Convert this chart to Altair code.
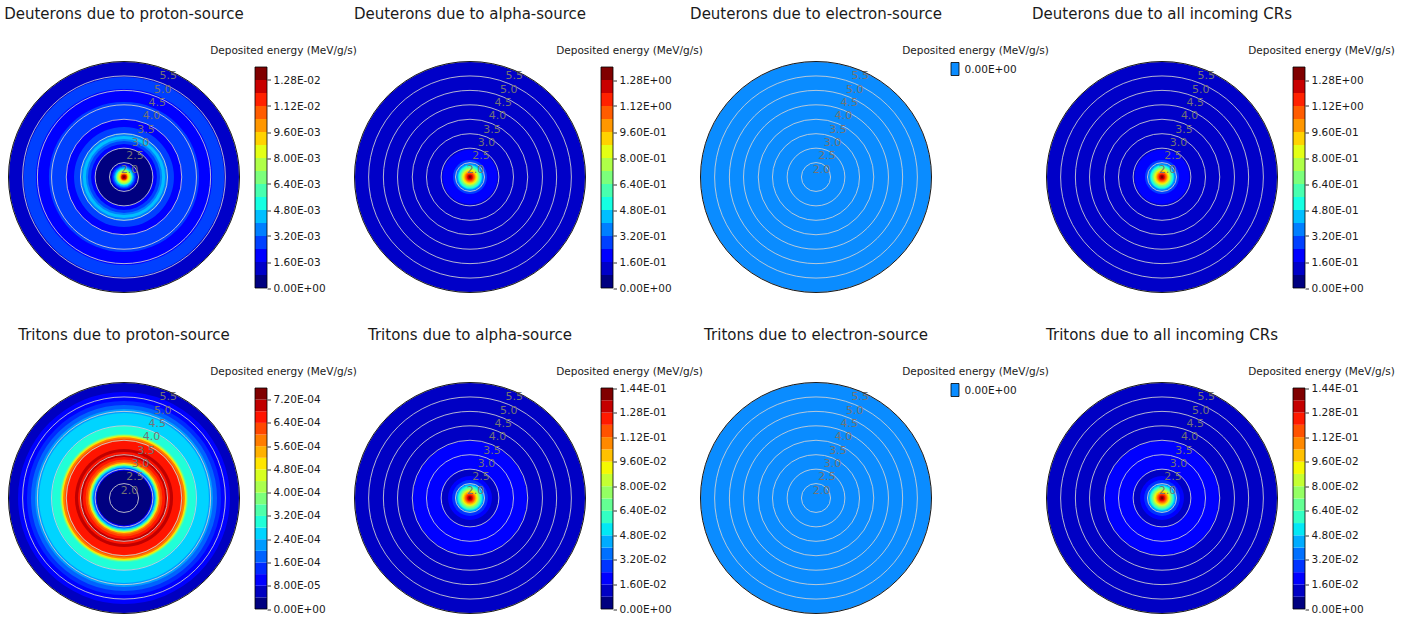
import altair as alt
import numpy as np
import pandas as pd

# ---------------------------------------------------------------- radial axis
R_MIN, R_MAX = 1.5, 5.5
GRID_R = [2.0, 2.5, 3.0, 3.5, 4.0, 4.5, 5.0, 5.5]
LABEL_TURN = 0.0625          # radial tick labels sit at 22.5 deg (fraction of a turn)

# ---------------------------------------------------------------- profiles
# each ring: outer radius (same units as the radial axis) and the deposited
# energy (MeV/g/s) inside that ring

# Deuterons due to proton-source
dp_r = [1.55, 1.59, 1.62, 1.66, 1.69, 1.73, 1.76, 1.79, 1.83, 1.86, 1.90, 1.93,
        1.99, 2.50, 2.64, 2.75, 2.82, 2.92, 3.02, 3.23, 3.51, 4.10, 4.55, 4.96, 5.50]
dp_val = [1.32e-2, 1.20e-2, 1.10e-2, 9.5e-3, 8.5e-3, 7.5e-3, 6.5e-3, 5.5e-3, 4.5e-3,
          3.6e-3, 2.8e-3, 2.0e-3, 1.2e-3, 4.0e-4, 1.8e-3, 2.8e-3, 3.6e-3, 4.2e-3,
          3.4e-3, 2.6e-3, 2.0e-3, 2.8e-3, 2.0e-3, 2.6e-3, 1.4e-3]
dp_ticks = [0.0, 1.6e-3, 3.2e-3, 4.8e-3, 6.4e-3, 8.0e-3, 9.6e-3, 1.12e-2, 1.28e-2]
dp_top = 1.36e-2

# Deuterons due to alpha-source
da_r = [1.55, 1.59, 1.62, 1.66, 1.69, 1.73, 1.76, 1.79, 1.83, 1.86, 1.90, 1.93,
        1.99, 2.09, 2.44, 5.50]
da_val = [1.33, 1.25, 1.15, 1.07, 0.99, 0.91, 0.83, 0.75, 0.67, 0.59, 0.51, 0.43,
          0.35, 0.27, 0.19, 0.11]
da_ticks = [0.0, 0.16, 0.32, 0.48, 0.64, 0.80, 0.96, 1.12, 1.28]
da_top = 1.36

# Deuterons due to all incoming CRs
dall_r = [1.55, 1.59, 1.62, 1.66, 1.69, 1.73, 1.76, 1.79, 1.83, 1.86, 1.90, 1.93,
          1.99, 2.09, 2.44, 5.50]
dall_val = [1.33, 1.25, 1.15, 1.07, 0.99, 0.91, 0.83, 0.75, 0.67, 0.59, 0.51, 0.43,
            0.35, 0.27, 0.19, 0.11]
dall_ticks = [0.0, 0.16, 0.32, 0.48, 0.64, 0.80, 0.96, 1.12, 1.28]
dall_top = 1.36

# Tritons due to proton-source
tp_r = [2.45, 2.50, 2.56, 2.61, 2.64, 2.68, 2.71, 2.76, 2.83, 2.92, 3.02, 3.09, 3.20,
        3.47, 3.54, 3.60, 3.65, 3.68, 3.72, 3.99, 4.44, 4.58, 4.72, 4.86, 5.17, 5.50]
tp_val = [2e-5, 1.0e-4, 1.8e-4, 2.6e-4, 3.4e-4, 4.2e-4, 5.0e-4, 5.8e-4, 6.2e-4, 6.6e-4,
          7.0e-4, 6.6e-4, 7.0e-4, 6.6e-4, 6.2e-4, 5.8e-4, 5.0e-4, 4.2e-4, 3.4e-4,
          3.0e-4, 2.6e-4, 2.2e-4, 1.8e-4, 1.4e-4, 1.0e-4, 7e-5]
tp_ticks = [0.0, 8e-5, 1.6e-4, 2.4e-4, 3.2e-4, 4.0e-4, 4.8e-4, 5.6e-4, 6.4e-4, 7.2e-4]
tp_top = 7.6e-4

# Tritons due to alpha-source
ta_r = [1.55, 1.59, 1.62, 1.66, 1.69, 1.73, 1.76, 1.79, 1.83, 1.86, 1.90, 1.93,
        1.97, 2.02, 2.12, 2.26, 2.50, 3.47, 5.50]
ta_val = [0.140, 0.130, 0.122, 0.114, 0.105, 0.097, 0.090, 0.082, 0.074, 0.066,
          0.058, 0.050, 0.042, 0.034, 0.026, 0.018, 0.012, 0.020, 0.012]
ta_ticks = [0.0, 1.6e-2, 3.2e-2, 4.8e-2, 6.4e-2, 8.0e-2, 9.6e-2, 1.12e-1, 1.28e-1, 1.44e-1]
ta_top = 1.44e-1

# Tritons due to all incoming CRs
tall_r = [1.55, 1.59, 1.62, 1.66, 1.69, 1.73, 1.76, 1.79, 1.83, 1.86, 1.90, 1.93,
          1.97, 2.02, 2.12, 2.26, 2.50, 3.47, 5.50]
tall_val = [0.140, 0.130, 0.122, 0.114, 0.105, 0.097, 0.090, 0.082, 0.074, 0.066,
            0.058, 0.050, 0.042, 0.034, 0.026, 0.018, 0.012, 0.020, 0.012]
tall_ticks = [0.0, 1.6e-2, 3.2e-2, 4.8e-2, 6.4e-2, 8.0e-2, 9.6e-2, 1.12e-1, 1.28e-1, 1.44e-1]
tall_top = 1.44e-1

# electron source: zero everywhere, one single level
el_r = [5.50]
el_val = [0.0]
el_levels = [0.0]

TITLES = [
    "Deuterons due to proton-source", "Deuterons due to alpha-source",
    "Deuterons due to electron-source", "Deuterons due to all incoming CRs",
    "Tritons due to proton-source", "Tritons due to alpha-source",
    "Tritons due to electron-source", "Tritons due to all incoming CRs",
]
CBAR_TITLE = "Deposited energy (MeV/g/s)"

# ---------------------------------------------------------------- jet colormap
JET = {
    "red": [(0.0, 0.0), (0.35, 0.0), (0.66, 1.0), (0.89, 1.0), (1.0, 0.5)],
    "green": [(0.0, 0.0), (0.125, 0.0), (0.375, 1.0), (0.64, 1.0), (0.91, 0.0), (1.0, 0.0)],
    "blue": [(0.0, 0.5), (0.11, 1.0), (0.34, 1.0), (0.65, 0.0), (1.0, 0.0)],
}
KNOTS = sorted({x for ch in JET.values() for x, _ in ch})


def jet_hex(t):
    rgb = []
    for ch in ("red", "green", "blue"):
        xs, ys = zip(*JET[ch])
        rgb.append(int(round(255 * float(np.interp(t, xs, ys)))))
    return "#%02x%02x%02x" % tuple(rgb)


JET_SCALE = alt.Scale(domain=KNOTS, range=[jet_hex(k) for k in KNOTS], interpolate="rgb")
EL_COLOR = "#0a8cff"
FONT = "DejaVu Sans"
TXT = "#1a1a1a"

# panel geometry (pixels): polar view, then the colour bar to its right
VIEW_W, DISK_R = 246, 115.5
VIEW_H = 2 * DISK_R
BAR_X = (VIEW_W / 2 + 131, VIEW_W / 2 + 143)
SWATCH_X = (VIEW_W / 2 + 135, VIEW_W / 2 + 143)
AXIS_OFFSET = BAR_X[1] - VIEW_W
PANEL_GAP, ROW_GAP = 100, 32

RAD = alt.Scale(type="linear", domain=[R_MIN, R_MAX], range=[0, DISK_R], zero=False, nice=False)
TURN = alt.Scale(type="linear", domain=[0, 1], range=[0, 2 * np.pi], zero=False, nice=False)


def sci(v):
    return "%.2E" % v


def label_expr(ticks):
    labels = [sci(v) for v in ticks]
    expr = "'%s'" % labels[-1]
    for i in range(len(ticks) - 2, -1, -1):
        mid = (ticks[i] + ticks[i + 1]) / 2
        expr = "datum.value < %r ? '%s' : (%s)" % (mid, labels[i], expr)
    return expr


def band_pos(vals, ticks, top):
    half = ticks[1] / 2
    n = int(round(top / half))
    idx = np.minimum((np.asarray(vals, dtype=float) / half + 1e-9).astype(int), n - 1)
    return idx / (n - 1), half, n


def full_turn(df):
    # every ring / circle covers the whole turn
    return df.assign(a0=0.0, a1=1.0)


def circle_enc():
    return dict(
        theta=alt.Theta("a0:Q", scale=TURN, stack=False),
        theta2="a1:Q",
        radius=alt.Radius("r:Q", scale=RAD),
    )


def polar_layers():
    grid = alt.Chart(full_turn(pd.DataFrame({"r": GRID_R}))).mark_arc(
        fillOpacity=0, stroke="#d2d2d2", strokeOpacity=0.85, strokeWidth=1
    ).encode(**circle_enc())
    lab = pd.DataFrame({"r": GRID_R, "txt": ["%.1f" % v for v in GRID_R], "ang": LABEL_TURN})
    labels = alt.Chart(lab).mark_text(dy=6, fontSize=11, font=FONT, color="#747474").encode(
        theta=alt.Theta("ang:Q", scale=TURN, stack=False),
        radius=alt.Radius("r:Q", scale=RAD),
        text="txt:N",
    )
    spine = alt.Chart(full_turn(pd.DataFrame({"r": [R_MAX]}))).mark_arc(
        fillOpacity=0, stroke=TXT, strokeWidth=1
    ).encode(**circle_enc())
    return grid, labels, spine


def bar_axis(values, expr, ticks_on=True, pad=2.5):
    kw = dict(orient="right", offset=AXIS_OFFSET, values=values, labelExpr=expr,
              tickCount=40, grid=False, domain=False, labelFontSize=10.5, labelFont=FONT,
              labelColor=TXT, labelPadding=pad, labelOverlap=False,
              title=CBAR_TITLE, titleAngle=0, titleAlign="center", titleBaseline="middle",
              titleX=16, titleY=-11.5, titleFontSize=10.5, titleFont=FONT,
              titleFontWeight="normal", titleColor=TXT)
    if ticks_on:
        kw.update(tickColor="#000000", tickSize=3.5, tickWidth=0.8)
    else:
        kw.update(ticks=False, tickSize=0)
    return alt.Axis(**kw)


def panel_props(chart, title):
    return chart.properties(
        width=VIEW_W, height=VIEW_H,
        title=alt.TitleParams(title, fontSize=15, font=FONT, fontWeight="normal",
                              color=TXT, anchor="middle", frame="group",
                              baseline="alphabetic", offset=11),
    )


def contour_panel(title, r_out, vals, ticks, top):
    t, half, n = band_pos(vals, ticks, top)
    rings = full_turn(pd.DataFrame({"r": r_out, "value": vals, "t": t})
                      .sort_values("r", ascending=False))
    fill = alt.Chart(rings).mark_arc().encode(
        color=alt.Color("t:Q", scale=JET_SCALE, legend=None), **circle_enc()
    )

    lo = [i * half for i in range(n)]
    bands = pd.DataFrame({"lo": lo, "hi": [v + half for v in lo],
                          "t": [i / (n - 1) for i in range(n)], "x0": 0.0, "x1": 1.0})
    xscale = alt.Scale(domain=[0, 1], range=list(BAR_X))
    yscale = alt.Scale(domain=[0, top], range=[VIEW_H - 4.5, 5.5], nice=False, zero=False)
    bar = alt.Chart(bands).mark_rect().encode(
        x=alt.X("x0:Q", scale=xscale, axis=None), x2="x1:Q",
        y=alt.Y("lo:Q", scale=yscale, axis=bar_axis(ticks, label_expr(ticks))),
        y2="hi:Q",
        color=alt.Color("t:Q", scale=JET_SCALE, legend=None),
    )
    frame = alt.Chart(pd.DataFrame({"lo": [0.0], "hi": [top], "x0": [0.0], "x1": [1.0]})).mark_rect(
        fillOpacity=0, stroke="#000000", strokeWidth=0.8
    ).encode(x=alt.X("x0:Q", scale=xscale, axis=None), x2="x1:Q",
             y=alt.Y("lo:Q", scale=yscale), y2="hi:Q")
    grid, labels, spine = polar_layers()
    return panel_props(alt.layer(fill, grid, labels, spine, bar, frame), title)


def electron_panel(title):
    rings = full_turn(pd.DataFrame({"r": el_r, "value": el_val}))
    fill = alt.Chart(rings).mark_arc(color=EL_COLOR).encode(**circle_enc())
    sw = pd.DataFrame({"lo": [0.0], "hi": [1.0], "level": el_levels, "x0": [0.0], "x1": [1.0]})
    swatch = alt.Chart(sw).mark_rect(color=EL_COLOR, stroke="#000000", strokeWidth=0.8).encode(
        x=alt.X("x0:Q", scale=alt.Scale(domain=[0, 1], range=list(SWATCH_X)), axis=None),
        x2="x1:Q",
        y=alt.Y("lo:Q", scale=alt.Scale(domain=[0, 1], range=[14, 1], nice=False, zero=False),
                axis=bar_axis([0.5], "'%s'" % sci(el_levels[0]), ticks_on=False, pad=5)),
        y2="hi:Q",
    )
    grid, labels, spine = polar_layers()
    return panel_props(alt.layer(fill, grid, labels, spine, swatch), title)


top_row = alt.hconcat(
    contour_panel(TITLES[0], dp_r, dp_val, dp_ticks, dp_top),
    contour_panel(TITLES[1], da_r, da_val, da_ticks, da_top),
    electron_panel(TITLES[2]),
    contour_panel(TITLES[3], dall_r, dall_val, dall_ticks, dall_top),
    spacing=PANEL_GAP, bounds="flush",
)
bottom_row = alt.hconcat(
    contour_panel(TITLES[4], tp_r, tp_val, tp_ticks, tp_top),
    contour_panel(TITLES[5], ta_r, ta_val, ta_ticks, ta_top),
    electron_panel(TITLES[6]),
    contour_panel(TITLES[7], tall_r, tall_val, tall_ticks, tall_top),
    spacing=PANEL_GAP, bounds="flush",
)

chart = alt.vconcat(top_row, bottom_row, spacing=ROW_GAP).properties(
    padding={"left": 0, "top": 6.5, "right": 5, "bottom": 5},
    background="white",
).configure_view(stroke="transparent")

chart.save("out.html", embed_options={"renderer": "svg", "actions": False})
